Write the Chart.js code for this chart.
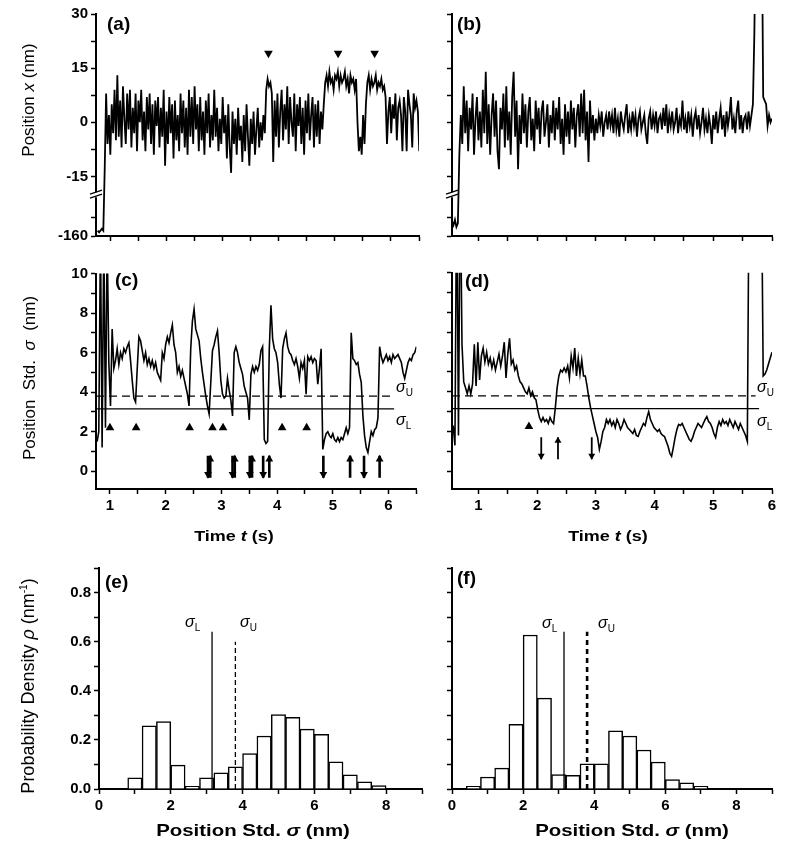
<!DOCTYPE html>
<html>
<head>
<meta charset="utf-8">
<script src="https://cdn.jsdelivr.net/npm/chart.js@4.4.1/dist/chart.umd.min.js"></script>
<style>
  body { margin: 0; background: #fff; width: 792px; height: 850px; position: relative; overflow: hidden; }
  canvas { position: absolute; }
</style>
</head>
<body>
<canvas id="ca" width="430" height="260" style="left:0;top:0"></canvas>
<canvas id="cb" width="362" height="260" style="left:430px;top:0"></canvas>
<canvas id="cc" width="430" height="290" style="left:0;top:260px"></canvas>
<canvas id="cd" width="362" height="290" style="left:430px;top:260px"></canvas>
<canvas id="ce" width="430" height="300" style="left:0;top:550px"></canvas>
<canvas id="cf" width="362" height="300" style="left:430px;top:550px"></canvas>
<script>
// ---- data ----
// (a) position x (nm), sampled every 0.025 s from 0.78 s
const posAStart = 0.78, posAStep = 0.025;
const posA = [
  -157, -158, -157, -156, -157, -13, 8, -6, 2, -9,
  5, -3, 9, -5, 13, -4, 6, -7, 10, 1,
  -6, 8, -2, 9, -7, 4, -3, 8, -8, 6,
  0, 9, -5, 3, -8, 7, -2, 8, -6, 5,
  -9, 6, -1, 7, -7, 4, -4, 9, -12, 3,
  -6, 7, -3, 5, -10, 6, -5, 2, -8, 8,
  -3, 6, -7, 4, -9, 9, -4, 7, -6, 10,
  -2, 5, -8, 7, -5, 3, -9, 6, -3, 8,
  -7, 2, -5, 9, -4, 4, -8, 1, -6, 7,
  -3, 2, -10, 5, -7, -14, 3, -6, 1, -9,
  4, -5, -1, -11, 2, -8, 5, -4, -12, 1,
  -6, 3, -9, -2, 4, -7, 0, -5, 2, -3,
  9, 12, 10, 11, 8, -11, 6, -4, 8, -7,
  3, 9, -5, 5, -2, 10, -6, 7, 0, -4,
  8, -8, 5, -1, 7, -6, 4, -9, 6, -3,
  8, -5, 2, 7, -7, 5, -4, 6, -6, 3,
  -2, 5, 11, 13, 10, 14, 11, 12, 9, 13,
  12, 14, 10, 13, 11, 12, 14, 10, 12, 8,
  13, 11, 12, 9, 12, 0, -8, -4, -9, 2,
  -6, 5, 11, 13, 9, 12, 10, 11, 13, 9,
  11, 10, 12, 9, 10, 7, -6, 3, 7, -3,
  5, 1, 8, -5, 4, 6, 2, -8, 7, 3,
  -8, 9, 5, 2, -7, 8, 4, 6, 3, -8
];
// (b) position x (nm), every 0.025 s from 0.55 s
const posBStart = 0.55, posBStep = 0.025;
const posB = [
  -152, -154, -151, -155, -153, -9, 2, -6, 10, -3,
  6, -8, 4, -2, 8, -9, 1, 7, -5, 3,
  -7, 9, -3, 14, -6, 5, -9, 2, 8, -4,
  6, -8, -13, 4, -2, 8, -7, 10, -5, 3,
  -9, 7, 14, -4, 6, -13, 2, -6, 8, -3,
  5, -7, 3, 7, -5, 1, -8, 6, -2, 4,
  -6, 3, 6, -4, 0, 5, -7, 2, -3, 6,
  -5, 4, -2, 7, -6, 1, -9, 5, -4, 3,
  -6, 6, -2, 4, -7, 2, 5, -4, 8, -3,
  9, -5, 3, -11, 6, -3, 2, -5, 1, -3,
  2, -1, 3, -4, 0, 2, -2, 3, -1, 2,
  -3, 4, -2, 1, -4, 3, 0, -2, 2, 5,
  -3, 1, -2, 3, -1, 2, -4, 1, 3, -2,
  0, 2, -3, -6, 1, 3, -2, 2, -1, 3,
  -3, 1, 2, -2, 4, -1, 5, -3, 2, -1,
  3, -2, 0, 4, -3, 1, -1, 6, -2, 1,
  -3, 3, -1, 2, -4, 1, 3, -2, 2, -3,
  0, 4, -2, 1, -3, 2, -1, -6, 2, -2,
  3, -3, 1, 4, -2, 2, -4, 3, -1, 2,
  7, -2, 1, -3, 3, 6, -2, 2, -3, 1,
  2, -2, 3, -1, 2, 5, 25, 60, 60, 60,
  60, 60, 7, 6, 5, -1, 2, 0, 1
];
// (c) position std (nm), every 0.03 s from 0.77 s
const stdCStart = 0.77, stdCStep = 0.03;
const stdC = [
  1.5, 2.0, 12, 1.2, 12, 2.2, 12, 5.5, 3.3, 7.2,
  5.2, 5.6, 6.2, 5.4, 6.0, 5.7, 6.2, 6.0, 6.3, 6.5,
  5.6, 4.6, 3.7, 3.5, 5.2, 6.8, 6.6, 6.1, 5.6, 6.0,
  5.4, 5.7, 5.3, 5.6, 5.2, 5.5, 5.0, 4.8, 4.6, 6.0,
  5.7, 6.4, 6.8, 6.5, 7.0, 7.4, 6.4, 6.0, 5.0, 5.3,
  4.8, 5.1, 4.7, 4.3, 3.9, 3.3, 6.2, 7.6, 8.2, 7.2,
  6.9, 6.6, 5.7, 5.0, 4.4, 3.8, 3.3, 2.9, 4.5, 6.1,
  6.4, 6.8, 7.1, 6.0, 4.6, 3.9, 3.7, 3.8, 4.7, 4.1,
  3.6, 2.8, 6.0, 6.3, 6.0, 5.5, 5.2, 4.9, 4.3, 4.0,
  3.7, 2.6, 4.9, 5.3, 5.0, 5.3, 5.1, 5.4, 6.1, 6.3,
  1.6, 1.4, 1.5, 6.2, 8.4, 6.7, 6.2, 6.0, 5.5, 4.4,
  3.7, 6.2, 6.7, 7.0, 6.3, 6.0, 5.9, 5.6, 5.4, 5.7,
  5.3, 4.7, 5.5, 5.2, 5.6, 3.9, 5.8, 5.6, 5.8, 5.5,
  5.7, 5.6, 4.4, 5.2, 6.2, 1.1, 1.6, 1.9, 2.0, 1.8,
  1.7, 1.9, 1.6, 1.5, 1.7, 1.5, 1.7, 1.6, 1.9, 2.2,
  1.9, 2.2, 7.0, 5.7, 5.6, 5.4, 5.5, 4.9, 4.5, 2.8,
  1.8, 1.2, 0.95, 1.5, 2.0, 1.8, 2.1, 2.2, 2.7, 6.3,
  5.8, 5.5, 5.7, 5.9, 5.6, 5.8, 5.5, 5.9, 5.7, 5.8,
  5.9, 5.7, 5.5, 5.0, 4.7, 5.1, 5.5, 5.7, 5.6, 5.9,
  6.0, 6.3
];
// (d) position std (nm), every 0.03 s from 0.57 s
const stdDStart = 0.57, stdDStep = 0.03;
const stdD = [
  2.3, 1.3, 15, 1.8, 15, 6.4, 4.5, 4.2, 3.9, 4.3,
  3.9, 4.4, 6.4, 4.3, 6.5, 4.6, 5.8, 6.2, 5.5, 6.0,
  5.4, 5.7, 5.2, 5.6, 5.1, 5.5, 5.9, 5.3, 5.8, 6.5,
  4.7, 5.9, 6.7, 5.4, 5.6, 5.1, 5.3, 4.8, 4.5, 4.4,
  4.2, 4.0, 3.9, 4.2, 3.8, 4.0, 3.7, 3.6, 3.1, 2.7,
  2.5, 2.7, 2.5, 2.6, 2.4, 2.7, 2.5, 2.4, 3.2, 4.2,
  4.8, 5.1, 5.0, 5.2, 5.0, 5.3, 4.7, 5.8, 5.2, 6.2,
  4.8, 5.7, 4.9, 5.6, 4.8, 4.8, 4.3, 3.7, 3.2, 2.8,
  2.4, 2.0, 1.7, 1.1, 1.5, 2.0, 2.2, 2.6, 2.4, 2.6,
  2.3, 2.5, 2.2, 2.6, 2.4, 2.1, 2.3, 2.6, 2.4, 2.2,
  2.1, 2.0, 1.9, 2.1, 1.8, 1.75, 2.0, 2.2, 2.4, 2.3,
  2.7, 3.0, 2.6, 2.4, 2.2, 2.1, 2.0, 2.1, 1.9, 1.8,
  1.75, 1.5, 1.25, 0.9, 0.75, 1.2, 1.7, 2.1, 2.35, 2.3,
  2.4, 2.2, 2.0, 1.8, 1.6, 1.5, 1.7, 2.0, 2.2, 2.4,
  2.3, 2.2, 2.4, 2.6, 2.75, 2.5, 2.4, 2.2, 1.9, 1.7,
  2.2, 2.5, 2.3, 2.6, 2.4, 2.5, 2.3, 2.6, 2.4, 2.2,
  2.5, 2.3, 2.1, 2.4, 2.2, 2.0, 1.8, 1.5, 15, 15,
  15, 15, 15, 15, 15, 15, 4.8, 4.9, 5.1, 5.4,
  5.7, 6.0
];

const sigmaL = 3.15, sigmaU = 3.8;

// event marks (time, s)
const stepMarksA = [3.82, 5.06, 5.71];
const triC = [1.0, 1.47, 2.43, 2.84, 3.03, 4.09, 4.53];
const triD = [1.86];
const downC = [2.76, 3.20, 3.51, 3.75, 4.83, 5.56];
const upC = [2.80, 3.24, 3.55, 3.86, 5.31, 5.84];
const downD = [2.07, 2.93];
const upD = [2.355];

// histograms: bin centres (nm) and density (1/nm)
const binsE = [1.0, 1.4, 1.8, 2.2, 2.6, 3.0, 3.4, 3.8, 4.2, 4.6, 5.0, 5.4, 5.8, 6.2, 6.6, 7.0, 7.4, 7.8];
const densE = [0.045, 0.257, 0.275, 0.097, 0.011, 0.045, 0.066, 0.09, 0.144, 0.216, 0.303, 0.292, 0.244, 0.223, 0.111, 0.058, 0.029, 0.014];
const binsF = [0.6, 1.0, 1.4, 1.8, 2.2, 2.6, 3.0, 3.4, 3.8, 4.2, 4.6, 5.0, 5.4, 5.8, 6.2, 6.6, 7.0];
const densF = [0.011, 0.049, 0.085, 0.263, 0.627, 0.37, 0.059, 0.056, 0.103, 0.103, 0.237, 0.216, 0.159, 0.11, 0.038, 0.025, 0.011];

// ticks
const posTicks = [-160, -150, -15, -7.5, 0, 7.5, 15, 22.5, 30];
const posTickLabels = ['-160', '', '-15', '', '0', '', '15', '', '30'];
const timeTicksC = [1, 1.5, 2, 2.5, 3, 3.5, 4, 4.5, 5, 5.5, 6, 6.5];
const timeLabelsC = ['1', '', '2', '', '3', '', '4', '', '5', '', '6', ''];
const timeTicksD = [1, 1.5, 2, 2.5, 3, 3.5, 4, 4.5, 5, 5.5, 6];
const timeLabelsD = ['1', '', '2', '', '3', '', '4', '', '5', '', '6'];
const stdTicks = [0, 1, 2, 3, 4, 5, 6, 7, 8, 9, 10];
const stdLabels = ['0', '', '2', '', '4', '', '6', '', '8', '', '10'];
const densTicks = [0, 0.1, 0.2, 0.3, 0.4, 0.5, 0.6, 0.7, 0.8, 0.9];
const densLabels = ['0.0', '', '0.2', '', '0.4', '', '0.6', '', '0.8', ''];
const sigTicks = [0, 1, 2, 3, 4, 5, 6, 7, 8, 9];
const sigLabels = ['0', '', '2', '', '4', '', '6', '', '8', ''];

// ---- helpers ----
const FAM = '"Liberation Sans", Arial, sans-serif';
const fnt = (w, s) => w + ' ' + s + 'px ' + FAM;
Chart.defaults.font.family = FAM;
Chart.defaults.color = '#000';
Chart.defaults.animation = false;
Chart.defaults.events = [];

// broken y axis in (a),(b): -160..-140 squeezed under the break
const BREAK_AT = -20.2;
function disp(v) {
  return v < -100 ? -31.5 + (v + 160) * 0.5 : v;
}

function trace(vals, t0, dt, map) {
  return vals.map((v, i) => ({ x: t0 + i * dt, y: map ? map(v) : v }));
}

function axis(min, max, ticks, labels, size, isX) {
  return {
    type: 'linear', min: min, max: max, offset: false,
    border: { color: '#000', width: 2 },
    grid: { drawOnChartArea: false, color: '#000', tickLength: 5, tickWidth: 1.5, offset: false },
    ticks: {
      autoSkip: false, maxRotation: 0, padding: 3, color: '#000',
      font: { size: 15, weight: 'bold' },
      callback: (v, i) => labels ? labels[i] : ''
    },
    afterBuildTicks: s => { s.ticks = ticks.map(v => ({ value: v })); },
    afterFit: s => { if (isX) s.height = size; else s.width = size; }
  };
}

function drawRuns(ctx, runs, align) {
  let w = 0;
  runs.forEach(r => { ctx.font = r.f; w += ctx.measureText(r.t).width; });
  let x = align === 'center' ? -w / 2 : (align === 'right' ? -w : 0);
  runs.forEach(r => {
    ctx.font = r.f;
    ctx.fillText(r.t, x, r.dy || 0);
    x += ctx.measureText(r.t).width;
  });
}

// text placed in page coordinates
const notesPlugin = {
  id: 'notes',
  afterDraw(chart, args, opts) {
    const ctx = chart.ctx;
    const ox = chart.canvas.offsetLeft, oy = chart.canvas.offsetTop;
    (opts.items || []).forEach(it => {
      ctx.save();
      ctx.translate(it.x - ox, it.y - oy);
      if (it.rot) ctx.rotate(it.rot * Math.PI / 180);
      if (it.sx) ctx.scale(it.sx, 1);
      ctx.fillStyle = '#000';
      ctx.textBaseline = 'middle';
      drawRuns(ctx, it.runs, it.align || 'left');
      ctx.restore();
    });
  }
};

const breakPlugin = {
  id: 'axisBreak',
  afterDraw(chart, args, opts) {
    if (!opts.on) return;
    const ctx = chart.ctx;
    const x = chart.chartArea.left;
    const y = chart.scales.y.getPixelForValue(BREAK_AT);
    ctx.save();
    ctx.fillStyle = '#fff';
    ctx.fillRect(x - 4, y - 3, 9, 5);
    ctx.strokeStyle = '#000';
    ctx.lineWidth = 1.3;
    ctx.beginPath();
    ctx.moveTo(x - 6, y - 1); ctx.lineTo(x + 6, y - 5);
    ctx.moveTo(x - 6, y + 3); ctx.lineTo(x + 6, y - 1);
    ctx.stroke();
    ctx.restore();
  }
};
Chart.register(notesPlugin, breakPlugin);

const lineDs = (data, extra) => Object.assign({
  type: 'line', data: data, borderColor: '#000', borderWidth: 1.5,
  pointRadius: 0, tension: 0, fill: false
}, extra || {});

const markDs = (data, style, r, rot, bw) => ({
  type: 'scatter', data: data, pointStyle: style, pointRadius: r, rotation: rot || 0,
  backgroundColor: '#000', borderColor: '#000', borderWidth: style === 'line' ? (bw || 2.2) : 0
});

const sigRuns = sub => [{ t: 'σ', f: fnt('italic', 16) }, { t: sub, f: fnt('normal', 10), dy: 5 }];
const label = (x, y, t) => ({ x: x, y: y, runs: [{ t: t, f: fnt('bold', 19) }] });
const timeTitle = [{ t: 'Time ', f: fnt('bold', 15) }, { t: 't', f: fnt('italic bold', 15) }, { t: ' (s)', f: fnt('bold', 15) }];
const sigTitle = [{ t: 'Position Std. ', f: fnt('bold', 17) }, { t: 'σ', f: fnt('italic bold', 17) }, { t: ' (nm)', f: fnt('bold', 17) }];

function makeChart(id, datasets, scales, pad, items, brk, type) {
  return new Chart(document.getElementById(id), {
    type: type || 'scatter',
    data: { datasets: datasets },
    options: {
      responsive: false,
      layout: { padding: pad },
      scales: scales,
      plugins: {
        legend: { display: false }, tooltip: { enabled: false },
        notes: { items: items }, axisBreak: { on: !!brk }
      }
    }
  });
}

// (a)
makeChart('ca', [
  lineDs(trace(posA, posAStart, posAStep, disp), { borderWidth: 1.8 }),
  markDs(stepMarksA.map(t => ({ x: t, y: 19.1 })), 'triangle', 5, 180)
], {
  x: axis(0.75, 6.5, timeTicksC, null, 24, true),
  y: axis(disp(-160), 30, posTicks.map(disp), posTickLabels, 96, false)
}, { top: 14, right: 11, left: 0, bottom: 0 }, [
  label(107, 25, '(a)'),
  { x: 29, y: 100, rot: -90, align: 'center',
    runs: [{ t: 'Position ', f: fnt('normal', 17) }, { t: 'x', f: fnt('italic', 17) }, { t: ' (nm)', f: fnt('normal', 17) }] }
], true);

// (b)
makeChart('cb', [
  lineDs(trace(posB, posBStart, posBStep, disp), { borderWidth: 1.8 })
], {
  x: axis(0.55, 6.0, timeTicksD, null, 24, true),
  y: axis(disp(-160), 30, posTicks.map(disp), null, 22, false)
}, { top: 14, right: 20, left: 0, bottom: 0 }, [
  label(457, 25, '(b)')
], true);

// (c)
makeChart('cc', [
  lineDs([{ x: 0.75, y: sigmaU }, { x: 6.08, y: sigmaU }], { borderDash: [8, 5], borderWidth: 1.3 }),
  lineDs([{ x: 0.75, y: sigmaL }, { x: 6.1, y: sigmaL }], { borderWidth: 1.3 }),
  lineDs(trace(stdC, stdCStart, stdCStep), { borderWidth: 1.6 }),
  markDs(triC.map(t => ({ x: t, y: 2.2 })), 'triangle', 5),
  markDs(downC.concat(upC).map(t => ({ x: t, y: 0.22 })), 'line', 11, 90, 2.6),
  markDs(downC.map(t => ({ x: t, y: -0.15 })), 'triangle', 4.5, 180),
  markDs(upC.map(t => ({ x: t, y: 0.6 })), 'triangle', 4.5)
], {
  x: axis(0.75, 6.5, timeTicksC, timeLabelsC, 61, true),
  y: axis(-0.9, 10, stdTicks, stdLabels, 96, false)
}, { top: 10, right: 11, left: 0, bottom: 0 }, [
  label(115, 281, '(c)'),
  { x: 30, y: 378, rot: -90, align: 'center',
    runs: [{ t: 'Position  Std.  ', f: fnt('normal', 17) }, { t: 'σ', f: fnt('italic', 17) }, { t: '  (nm)', f: fnt('normal', 17) }] },
  { x: 234, y: 537, align: 'center', sx: 1.2, runs: timeTitle },
  { x: 396, y: 388, runs: sigRuns('U') },
  { x: 396, y: 421, runs: sigRuns('L') }
]);

// (d)
makeChart('cd', [
  lineDs([{ x: 0.55, y: sigmaU }, { x: 5.72, y: sigmaU }], { borderDash: [8, 5], borderWidth: 1.3 }),
  lineDs([{ x: 0.55, y: sigmaL }, { x: 5.78, y: sigmaL }], { borderWidth: 1.3 }),
  lineDs(trace(stdD, stdDStart, stdDStep), { borderWidth: 1.6 }),
  markDs(triD.map(t => ({ x: t, y: 2.25 })), 'triangle', 5),
  markDs(downD.concat(upD).map(t => ({ x: t, y: 1.15 })), 'line', 11, 90, 1.8),
  markDs(downD.map(t => ({ x: t, y: 0.78 })), 'triangle', 4, 180),
  markDs(upD.map(t => ({ x: t, y: 1.53 })), 'triangle', 4)
], {
  x: axis(0.55, 6.0, timeTicksD, timeLabelsD, 61, true),
  y: axis(-0.9, 10, stdTicks, null, 22, false)
}, { top: 10, right: 20, left: 0, bottom: 0 }, [
  label(465, 282, '(d)'),
  { x: 608, y: 537, align: 'center', sx: 1.2, runs: timeTitle },
  { x: 757, y: 388, runs: sigRuns('U') },
  { x: 757, y: 422, runs: sigRuns('L') }
]);

// (e), (f) histograms
function histDs(bins, dens) {
  return {
    type: 'bar', data: bins.map((b, i) => ({ x: b, y: dens[i] })),
    backgroundColor: '#fff', borderColor: '#000', borderWidth: 1.5,
    barPercentage: 1, categoryPercentage: 1
  };
}

makeChart('ce', [
  lineDs([{ x: sigmaL, y: 0 }, { x: sigmaL, y: 0.64 }], { borderWidth: 1.3 }),
  lineDs([{ x: sigmaU, y: 0 }, { x: sigmaU, y: 0.6 }], { borderWidth: 1.3, borderDash: [5, 3] }),
  histDs(binsE, densE)
], {
  x: axis(0, 9, sigTicks, sigLabels, 61, true),
  y: axis(0, 0.9, densTicks, densLabels, 99, false)
}, { top: 18, right: 8, left: 0, bottom: 0 }, [
  label(105, 583, '(e)'),
  { x: 29, y: 686, rot: -90, align: 'center',
    runs: [{ t: 'Probability Density ', f: fnt('normal', 18) }, { t: 'ρ', f: fnt('italic', 18) },
           { t: ' (nm', f: fnt('normal', 18) }, { t: '-1', f: fnt('normal', 10), dy: -5 }, { t: ')', f: fnt('normal', 18) }] },
  { x: 253, y: 831, align: 'center', sx: 1.2, runs: sigTitle },
  { x: 185, y: 623, runs: sigRuns('L') },
  { x: 240, y: 623, runs: sigRuns('U') }
], false, 'bar');

makeChart('cf', [
  lineDs([{ x: sigmaL, y: 0 }, { x: sigmaL, y: 0.64 }], { borderWidth: 1.3 }),
  lineDs([{ x: sigmaU, y: 0 }, { x: sigmaU, y: 0.64 }], { borderWidth: 2.6, borderDash: [5, 4] }),
  histDs(binsF, densF)
], {
  x: axis(0, 9, sigTicks, sigLabels, 61, true),
  y: axis(0, 0.9, densTicks, null, 22, false)
}, { top: 18, right: 20, left: 0, bottom: 0 }, [
  label(457, 579, '(f)'),
  { x: 632, y: 831, align: 'center', sx: 1.2, runs: sigTitle },
  { x: 542, y: 624, runs: sigRuns('L') },
  { x: 598, y: 624, runs: sigRuns('U') }
], false, 'bar');
</script>
</body>
</html>
